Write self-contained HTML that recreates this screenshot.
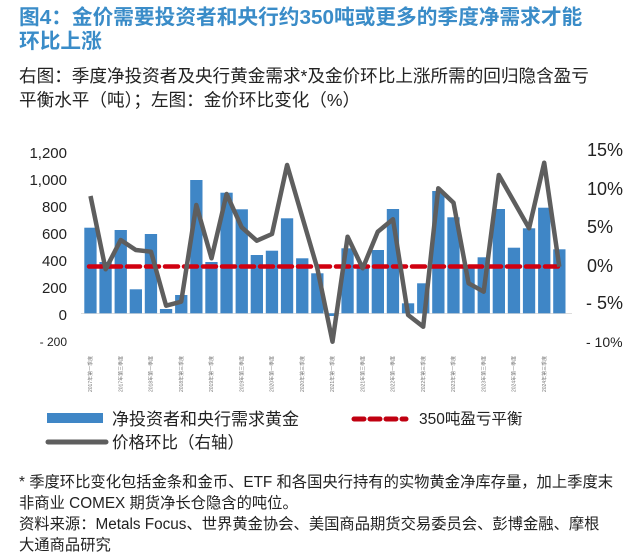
<!DOCTYPE html>
<html><head><meta charset="utf-8"><style>
body{margin:0;width:640px;height:557px;background:#fff;overflow:hidden;font-family:"Liberation Sans","Noto Sans CJK SC",sans-serif;}
.t{position:absolute;left:19px;color:#3a8cc8;font-weight:bold;font-size:20.7px;line-height:24px;white-space:nowrap;}
.s{position:absolute;left:19px;color:#222;font-size:17.6px;line-height:24px;white-space:nowrap;}
.f{position:absolute;left:19px;color:#222;font-size:15.3px;line-height:21px;white-space:nowrap;}
</style></head><body>
<div class="t" style="top:6px">图4：金价需要投资者和央行约350吨或更多的季度净需求才能<br>环比上涨</div>
<div class="s" style="top:64px">右图：季度净投资者及央行黄金需求*及金价环比上涨所需的回归隐含盈亏<br>平衡水平（吨）；左图：金价环比变化（%）</div>
<svg width="640" height="557" style="position:absolute;left:0;top:0" font-family="Liberation Sans, Noto Sans CJK SC, sans-serif">
<g font-size="15" fill="#222" text-anchor="end">
<text x="67" y="158">1,200</text><text x="67" y="185">1,000</text><text x="67" y="212">800</text><text x="67" y="239">600</text><text x="67" y="266">400</text><text x="67" y="293">200</text><text x="67" y="320">0</text><text x="67" y="346" font-size="12">- 200</text>
</g>
<g font-size="18" fill="#222">
<text x="587" y="156">15%</text><text x="587" y="195">10%</text><text x="587" y="233">5%</text><text x="587" y="272">0%</text><text x="586" y="309">- 5%</text><text x="586" y="347" font-size="14">- 10%</text>
</g>
<line x1="81" y1="313.5" x2="572" y2="313.5" stroke="#ddd" stroke-width="1"/>
<g fill="#3f86c6">
<rect x="84.3" y="227.7" width="12.3" height="85.6"/>
<rect x="99.4" y="262" width="12.3" height="51.3"/>
<rect x="114.6" y="230" width="12.3" height="83.3"/>
<rect x="129.7" y="289.3" width="12.3" height="24"/>
<rect x="144.8" y="234" width="12.3" height="79.3"/>
<rect x="159.9" y="309" width="12.3" height="4.3"/>
<rect x="175.1" y="295" width="12.3" height="18.3"/>
<rect x="190.2" y="180" width="12.3" height="133.3"/>
<rect x="205.3" y="262" width="12.3" height="51.3"/>
<rect x="220.4" y="192.7" width="12.3" height="120.6"/>
<rect x="235.6" y="209.3" width="12.3" height="104"/>
<rect x="250.7" y="255" width="12.3" height="58.3"/>
<rect x="265.8" y="250.7" width="12.3" height="62.6"/>
<rect x="280.9" y="218.3" width="12.3" height="95"/>
<rect x="296.1" y="258.3" width="12.3" height="55"/>
<rect x="311.2" y="273.3" width="12.3" height="40"/>
<rect x="326.3" y="313.3" width="12.3" height="2.7"/>
<rect x="341.4" y="248.3" width="12.3" height="65"/>
<rect x="356.6" y="266" width="12.3" height="47.3"/>
<rect x="371.7" y="250" width="12.3" height="63.3"/>
<rect x="386.8" y="209" width="12.3" height="104.3"/>
<rect x="401.9" y="303.3" width="12.3" height="10"/>
<rect x="417.1" y="283.3" width="12.3" height="30"/>
<rect x="432.2" y="191" width="12.3" height="122.3"/>
<rect x="447.3" y="217.3" width="12.3" height="96"/>
<rect x="462.4" y="266" width="12.3" height="47.3"/>
<rect x="477.6" y="257.3" width="12.3" height="56"/>
<rect x="492.7" y="209" width="12.3" height="104.3"/>
<rect x="507.8" y="247.7" width="12.3" height="65.6"/>
<rect x="522.9" y="228.3" width="12.3" height="85"/>
<rect x="538.1" y="207.7" width="12.3" height="105.6"/>
<rect x="553.2" y="249.3" width="12.3" height="64"/>
</g>
<line x1="89" y1="266.5" x2="561" y2="266.5" stroke="#d00010" stroke-width="4.5" stroke-dasharray="13,6" stroke-linecap="round"/>
<polyline fill="none" stroke="#5e5e5e" stroke-width="4.5" stroke-linejoin="round" points="90.5,196 105.6,269.3 120.7,240 135.8,250 151,251.7 166.1,305.7 181.2,301.7 196.3,205 211.5,258.3 226.6,194 241.7,227.3 256.8,240.7 272,234 287.1,165 302.2,216.7 317.3,268.3 332.5,341.7 347.6,236.7 362.7,268.3 377.8,231.7 393,219.3 408.1,315 423.2,326.7 438.3,188.3 453.5,202.7 468.6,283.3 483.7,291.7 498.8,175 514,201.7 529.1,228.3 544.2,162.7 559.3,266.7"/>
<g font-size="5" fill="#777">
<text transform="translate(92,392) rotate(-90)">2017年第一季度</text>
<text transform="translate(122.3,392) rotate(-90)">2017年第三季度</text>
<text transform="translate(152.5,392) rotate(-90)">2018年第一季度</text>
<text transform="translate(182.8,392) rotate(-90)">2018年第三季度</text>
<text transform="translate(213,392) rotate(-90)">2019年第一季度</text>
<text transform="translate(243.3,392) rotate(-90)">2019年第三季度</text>
<text transform="translate(273.5,392) rotate(-90)">2020年第一季度</text>
<text transform="translate(303.8,392) rotate(-90)">2020年第三季度</text>
<text transform="translate(334,392) rotate(-90)">2021年第一季度</text>
<text transform="translate(364.3,392) rotate(-90)">2021年第三季度</text>
<text transform="translate(394.5,392) rotate(-90)">2022年第一季度</text>
<text transform="translate(424.8,392) rotate(-90)">2022年第三季度</text>
<text transform="translate(455,392) rotate(-90)">2023年第一季度</text>
<text transform="translate(485.3,392) rotate(-90)">2023年第三季度</text>
<text transform="translate(515.5,392) rotate(-90)">2024年第一季度</text>
<text transform="translate(545.8,392) rotate(-90)">2024年第三季度</text>
</g>
<rect x="47" y="413" width="56" height="10" fill="#3f86c6"/>
<text x="112" y="425" font-size="17" fill="#222">净投资者和央行需求黄金</text>
<line x1="354" y1="419" x2="406" y2="419" stroke="#c00010" stroke-width="5" stroke-dasharray="10,6" stroke-linecap="round"/>
<text x="419" y="424" font-size="15.5" fill="#222">350吨盈亏平衡</text>
<line x1="48" y1="442" x2="106" y2="442" stroke="#5e5e5e" stroke-width="5" stroke-linecap="round"/>
<text x="112" y="448" font-size="16.5" fill="#222">价格环比（右轴）</text>
</svg>
<div class="f" style="top:472px">* 季度环比变化包括金条和金币、ETF 和各国央行持有的实物黄金净库存量，加上季度末<br>非商业 COMEX 期货净长仓隐含的吨位。<br>资料来源：Metals Focus、世界黄金协会、美国商品期货交易委员会、彭博金融、摩根<br>大通商品研究</div>
</body></html>
